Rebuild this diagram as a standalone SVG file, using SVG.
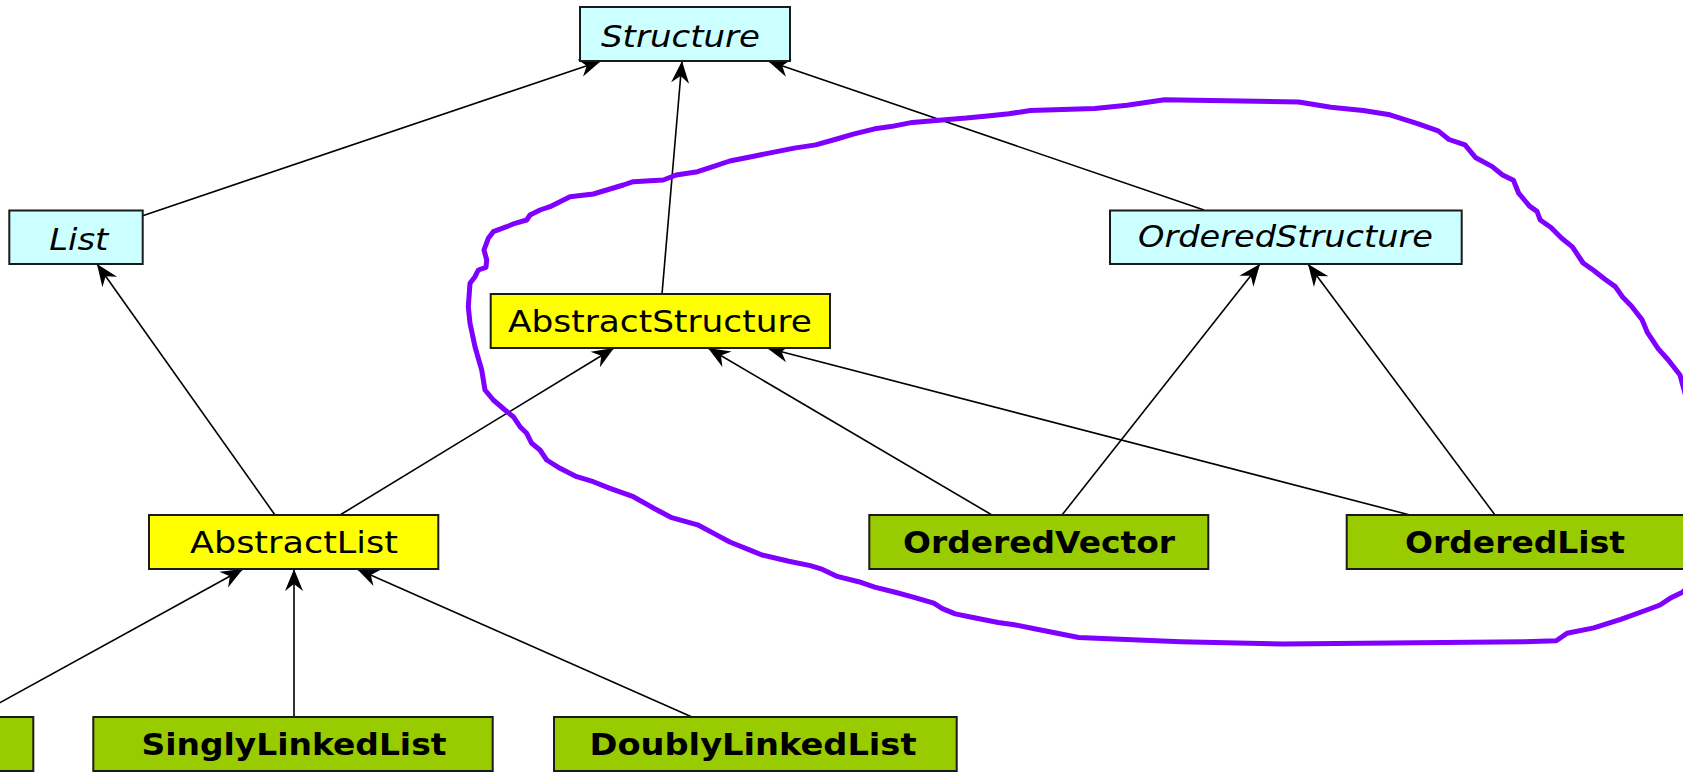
<svg xmlns="http://www.w3.org/2000/svg" width="1683" height="772" viewBox="0 0 1683 772">
  <style>
    .box { stroke: #1a1a1a; stroke-width: 2; }
    .iface { fill: #ccffff; }
    .abstract { fill: #ffff00; }
    .concrete { fill: #99cc00; }
    .lbl { font-family: "DejaVu Sans", "Liberation Sans", sans-serif; font-size: 30px; fill: #000; text-anchor: middle; }
    .it { font-style: italic; }
    .bd { font-weight: bold; }
    .edge { stroke: #000; stroke-width: 1.6; fill: none; marker-end: url(#arrow); }
    .loop { fill: none; stroke: #7f00ff; stroke-width: 5; stroke-linejoin: round; stroke-linecap: round; }
  </style>
  <defs>
    <marker id="arrow" viewBox="-1 -10 24 20" refX="22" refY="0" markerWidth="24" markerHeight="20" markerUnits="userSpaceOnUse" orient="auto">
      <path d="M22,0 L0,-9 L7,0 L0,9 Z" fill="#000"/>
    </marker>
  </defs>
  <rect width="1683" height="772" fill="#ffffff"/>

  <!-- inheritance connectors (child -> parent) -->
  <g id="connectors">
    <line class="edge" x1="142.7" y1="215.7" x2="601" y2="61"/>
    <line class="edge" x1="662" y1="294" x2="682" y2="61"/>
    <line class="edge" x1="1204" y1="210" x2="768" y2="61"/>
    <line class="edge" x1="275" y1="515" x2="97" y2="264"/>
    <line class="edge" x1="340" y1="515" x2="614" y2="348"/>
    <line class="edge" x1="992" y1="515" x2="708" y2="348"/>
    <line class="edge" x1="1410" y1="515" x2="767" y2="348"/>
    <line class="edge" x1="1062" y1="515" x2="1260" y2="264"/>
    <line class="edge" x1="1495" y1="515" x2="1308" y2="264"/>
    <line class="edge" x1="-26" y1="717" x2="243" y2="569"/>
    <line class="edge" x1="294" y1="717" x2="294" y2="569"/>
    <line class="edge" x1="692" y1="717" x2="357" y2="569"/>
  </g>

  <g id="Structure">
    <rect class="box iface" x="580" y="7" width="210" height="54"/>
    <text class="lbl it" x="680.5" y="46.7" textLength="159" lengthAdjust="spacingAndGlyphs">Structure</text>
  </g>
  <g id="List">
    <rect class="box iface" x="9.3" y="210.5" width="133.4" height="53.5"/>
    <text class="lbl it" x="78.8" y="250" textLength="59" lengthAdjust="spacingAndGlyphs">List</text>
  </g>
  <g id="OrderedStructure">
    <rect class="box iface" x="1110" y="210.5" width="351.7" height="53.5"/>
    <text class="lbl it" x="1285.5" y="246.7" textLength="295" lengthAdjust="spacingAndGlyphs">OrderedStructure</text>
  </g>
  <g id="AbstractStructure">
    <rect class="box abstract" x="490.7" y="294" width="339.3" height="54"/>
    <text class="lbl" x="660" y="332.3" textLength="304" lengthAdjust="spacingAndGlyphs">AbstractStructure</text>
  </g>
  <g id="AbstractList">
    <rect class="box abstract" x="149" y="515" width="289.3" height="54"/>
    <text class="lbl" x="294" y="553.3" textLength="208" lengthAdjust="spacingAndGlyphs">AbstractList</text>
  </g>
  <g id="OrderedVector">
    <rect class="box concrete" x="869.3" y="515" width="339" height="54"/>
    <text class="lbl bd" x="1039" y="553.3" textLength="272" lengthAdjust="spacingAndGlyphs">OrderedVector</text>
  </g>
  <g id="OrderedList">
    <rect class="box concrete" x="1346.7" y="515" width="340" height="54"/>
    <text class="lbl bd" x="1515" y="553.3" textLength="220" lengthAdjust="spacingAndGlyphs">OrderedList</text>
  </g>
  <g id="ListNodeLeft">
    <rect class="box concrete" x="-370" y="717" width="403.3" height="54"/>
  </g>
  <g id="SinglyLinkedList">
    <rect class="box concrete" x="93.3" y="717" width="399.4" height="54"/>
    <text class="lbl bd" x="294" y="755" textLength="305" lengthAdjust="spacingAndGlyphs">SinglyLinkedList</text>
  </g>
  <g id="DoublyLinkedList">
    <rect class="box concrete" x="554" y="717" width="402.7" height="54"/>
    <text class="lbl bd" x="753" y="755" textLength="327" lengthAdjust="spacingAndGlyphs">DoublyLinkedList</text>
  </g>

  <!-- freehand grouping loop -->
  <g id="annotation">
    <polyline class="loop" points="
      663.3,180 676.2,175 697.6,171.7 713.7,166.4 729.8,161 751.3,156.7 772.8,152.4 794.2,148.1 815.7,144.9
      835,139.5 853.3,134.2 874.7,128.8 890.8,126.6 912.3,122.4 939.1,120.2 966,118.1 987.4,115.9 1008.9,113.8
      1030.4,110.5 1062.6,109.5 1094.8,108.4 1127,105.2 1164.5,99.8 1298.7,102 1330.9,107.3 1363.1,110.5
      1389.9,114.8 1416.8,123.4 1438.2,130.9 1449,139.5 1465,144.9 1475.8,157.8 1491.9,166.4 1502.6,175
      1513.4,180.3 1518.7,193.2 1529.5,206.1 1537,211.4 1540.2,220 1551,227.5 1561.7,238.3 1572.4,246.9
      1583.1,263 1593.8,270.5 1604.6,279 1615.3,286.6 1622.8,297.3 1631.4,305.9 1642.1,319.8 1647.5,332.7
      1658.3,348.8 1668.3,360 1680,375 1686,397 1700,440 1705,520 1700,570 1683,592 1670,598.3 1660,605
      1646.7,610 1620.7,619.3 1593.8,627.9 1567,633.2 1556.3,640.8 1524.1,641.8 1282.6,644 1180.6,641.8
      1078.7,637.5 1057.2,633.2 1035.7,629 1014.3,624.7 998.2,622.5 976.7,618.2 955.2,613.9 942.4,608.6
      933.8,603.2 912.3,596.8 896.2,592.5 874.7,587.1 858.6,581.7 837.2,576.4 821,568.8 810.3,565.6
      788.9,561.3 762,555 751.3,550.6 729.8,542 713.7,533.4 697.6,524.8 670.8,517.3 654.7,508.7
      633.3,496.7 610,488.3 593.3,481.7 576.7,476.7 560,468.3 546.7,460 540,450 531.7,443.3 526.7,433.3
      520,426.7 513.3,416.7 505,410 493.3,400 485,390 481.7,370 475,346.7 470,323.3 468.3,306.7 470,283.3
      475,276.7 478.3,270 486,267.3 486.7,260 484,250 488.3,238.3 493.3,231.7 506.7,226.7 515,223.3
      526.7,220 530,215 540,210 550,206.7 560,201.7 570,196.7 593.3,194 606.7,190 623.3,185 633.3,181.7 663.3,180"/>
  </g>
</svg>
